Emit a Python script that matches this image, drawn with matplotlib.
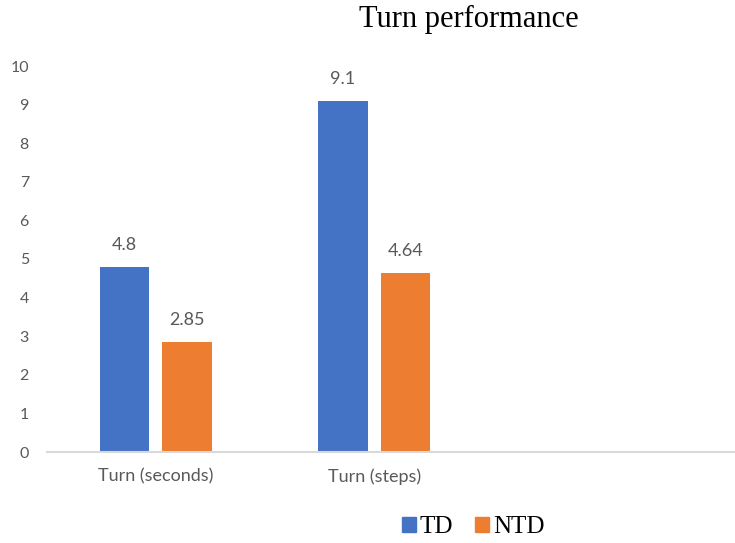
import matplotlib
matplotlib.use('Agg')
import matplotlib.pyplot as plt
from matplotlib.patches import Patch
import numpy as np

# data
categories = ['Turn (seconds)', 'Turn (steps)']
td_values = [4.8, 9.1]
ntd_values = [2.85, 4.64]
td_labels = ['4.8', '9.1']
ntd_labels = ['2.85', '4.64']
series_names = ['TD', 'NTD']
y_ticks = list(range(0, 11))

BLUE = '#4472C4'
ORANGE = '#ED7D31'
GREY = '#595959'

fig = plt.figure(figsize=(7.35, 5.43), dpi=100)
ax = fig.add_axes([47 / 735, 91 / 543, 688 / 735, 386 / 543])

x = np.arange(len(categories))
w = 0.227
off = 0.143
bars_td = ax.bar(x - off, td_values, w, color=BLUE)
bars_ntd = ax.bar(x + off, ntd_values, w, color=ORANGE)

for bars, labels in [(bars_td, td_labels), (bars_ntd, ntd_labels)]:
    for b, lab in zip(bars, labels):
        ax.annotate(lab, (b.get_x() + b.get_width() / 2, b.get_height()),
                    xytext=(0, 15.5), textcoords='offset points',
                    ha='center', va='center', fontsize=13,
                    family='Lato', color=GREY)

ax.set_xlim(-0.497, 2.652)
ax.set_ylim(0, 10)
ax.set_yticks(y_ticks)
ax.set_xticks(x)
ax.set_xticklabels(categories)

for s in ['top', 'right', 'left']:
    ax.spines[s].set_visible(False)
ax.spines['bottom'].set_color('#D9D9D9')
ax.spines['bottom'].set_linewidth(1.5)

ax.tick_params(axis='y', length=0, pad=13, labelsize=11.5, labelcolor=GREY)
ax.tick_params(axis='x', length=0, pad=12, labelsize=13, labelcolor=GREY)
for t in ax.get_xticklabels() + ax.get_yticklabels():
    t.set_family('Lato')

fig.text(469 / 735, 1 - 27 / 543, 'Turn performance', ha='center',
         va='baseline', fontsize=22, family='Liberation Serif', color='black')

handles = [Patch(color=BLUE), Patch(color=ORANGE)]
fig.legend(handles, series_names, loc='center', ncol=2, frameon=False,
           bbox_to_anchor=(473 / 735, 1 - 527 / 543),
           prop={'family': 'Liberation Serif', 'size': 18},
           handlelength=0.55, handleheight=0.55, handletextpad=0.15,
           columnspacing=0.9)

fig.savefig('out.png', dpi=100)
